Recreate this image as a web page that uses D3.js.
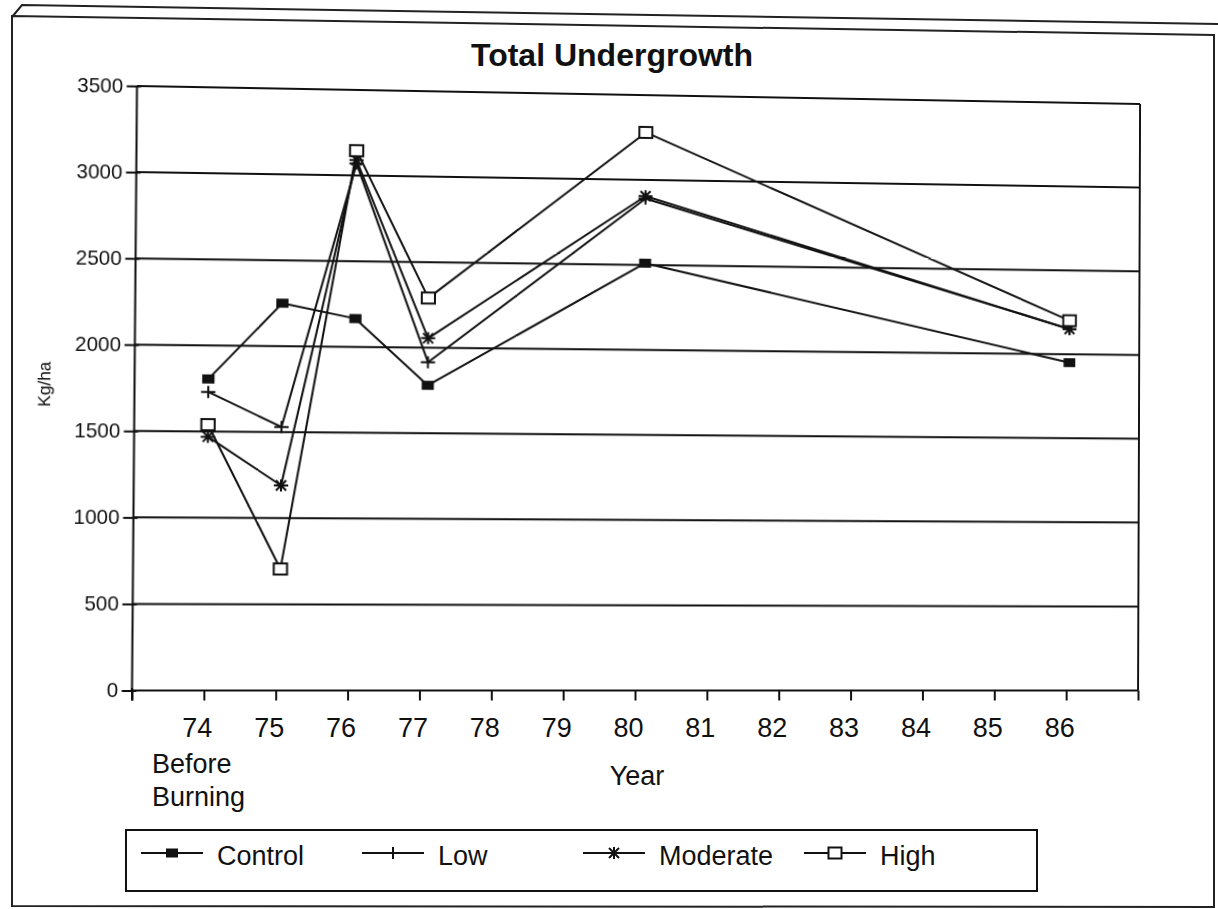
<!DOCTYPE html>
<html>
<head>
<meta charset="utf-8">
<script src="https://cdn.jsdelivr.net/npm/d3@7"></script>
<style>
  body { margin: 0; background: #fff; }
  #wrap { position: relative; width: 1218px; height: 909px; overflow: hidden; }
  #wrap svg { position: absolute; left: 0; top: 0; }
</style>
</head>
<body>
<div id="wrap"></div>
<script>
// data (Kg/ha)
const years = [74, 75, 76, 77, 80, 86];
const control = [1805, 2250, 2165, 1780, 2510, 1950];
const low = [1730, 1530, 3070, 1915, 2890, 2150];
const moderate = [1470, 1190, 3090, 2055, 2905, 2150];
const high = [1540, 705, 3145, 2290, 3280, 2200];
const seriesNames = ["Control", "Low", "Moderate", "High"];
const yTicks = [0, 500, 1000, 1500, 2000, 2500, 3000, 3500];
const xTickYears = d3.range(73, 88);
const xLabelYears = d3.range(74, 87);

const W = 1218, H = 909;
const plot = {left: 134.5, right: 1139, top: 95, bottom: 690.5};
const ink = "#111";
const font = "'Liberation Sans', Arial, sans-serif";

const series = [
  {name: seriesNames[0], values: control, marker: "filledSquare"},
  {name: seriesNames[1], values: low, marker: "plus"},
  {name: seriesNames[2], values: moderate, marker: "star"},
  {name: seriesNames[3], values: high, marker: "openSquare"}
];

const x = d3.scaleLinear().domain([73, 87]).range([plot.left, plot.right]);
const y = d3.scaleLinear().domain([0, 3500]).range([plot.bottom, plot.top]);
// bottom edge of the scan is flat, so the x axis is drawn unwarped
const xFlat = d3.scaleLinear().domain([73, 87]).range([132, 1138]);

const wrap = d3.select("#wrap");

// flat layer: sheet frame, title, x axis, axis titles, legend
const flat = wrap.append("svg")
  .attr("width", W).attr("height", H)
  .attr("font-family", font);

flat.append("path")
  .attr("d", "M12,906 L12,16 L1214,35 L1214,907 Z")
  .attr("fill", "none").attr("stroke", "#222").attr("stroke-width", 2);
flat.append("path")
  .attr("d", "M12,17 L22,5 L1218,24")
  .attr("fill", "none").attr("stroke", "#222").attr("stroke-width", 2);

flat.append("text")
  .attr("x", 612).attr("y", 66)
  .attr("text-anchor", "middle")
  .attr("font-size", 32).attr("font-weight", "bold")
  .attr("fill", ink)
  .text("Total Undergrowth");

const xAxis = flat.append("g")
  .attr("transform", "translate(0,690.5)")
  .call(d3.axisBottom(xFlat).tickValues(xTickYears).tickSize(10)
    .tickFormat(d => xLabelYears.includes(d) ? d : ""));
xAxis.select(".domain").remove();
xAxis.attr("font-family", font);
xAxis.selectAll(".tick line").attr("stroke", ink).attr("stroke-width", 2);
xAxis.selectAll(".tick text")
  .attr("y", 46.5).attr("dy", 0).attr("dx", -7)
  .attr("font-size", 27).attr("fill", ink);
flat.append("line")
  .attr("x1", xFlat.range()[0]).attr("x2", xFlat.range()[1])
  .attr("y1", 690.5).attr("y2", 690.5)
  .attr("stroke", ink).attr("stroke-width", 2);
flat.append("line")
  .attr("x1", xFlat.range()[0]).attr("x2", xFlat.range()[0])
  .attr("y1", 688).attr("y2", 700.5)
  .attr("stroke", ink).attr("stroke-width", 2);

flat.append("text").attr("x", 152).attr("y", 773)
  .attr("font-size", 27).attr("fill", ink).text("Before");
flat.append("text").attr("x", 152).attr("y", 806)
  .attr("font-size", 27).attr("fill", ink).text("Burning");
flat.append("text").attr("x", 637).attr("y", 785)
  .attr("text-anchor", "middle")
  .attr("font-size", 27).attr("fill", ink).text("Year");

// warped layer: plot drawn flat then bent to follow the scan
const svg = wrap.append("svg")
  .attr("width", W).attr("height", H)
  .attr("font-family", font)
  .style("transform-origin", "0 0");

function homography(src, dst) {
  const A = [], b = [];
  for (let i = 0; i < 4; i++) {
    const [px, py] = src[i], [u, v] = dst[i];
    A.push([px, py, 1, 0, 0, 0, -px * u, -py * u]); b.push(u);
    A.push([0, 0, 0, px, py, 1, -px * v, -py * v]); b.push(v);
  }
  for (let c = 0; c < 8; c++) {
    let p = c;
    for (let r = c + 1; r < 8; r++) if (Math.abs(A[r][c]) > Math.abs(A[p][c])) p = r;
    [A[c], A[p]] = [A[p], A[c]]; [b[c], b[p]] = [b[p], b[c]];
    for (let r = 0; r < 8; r++) {
      if (r === c) continue;
      const f = A[r][c] / A[c][c];
      for (let k = c; k < 8; k++) A[r][k] -= f * A[c][k];
      b[r] -= f * b[c];
    }
  }
  return b.map((v, i) => v / A[i][i]);
}

const h = homography(
  [[plot.left, plot.top], [plot.right, plot.top], [plot.right, plot.bottom], [plot.left, plot.bottom]],
  [[137, 86], [1140, 104], [1138, 690.5], [132, 690.5]]
);
svg.style("transform", "matrix3d(" + [h[0], h[3], 0, h[6], h[1], h[4], 0, h[7], 0, 0, 1, 0, h[2], h[5], 0, 1].join(",") + ")");

// gridlines
svg.append("g")
  .selectAll("line")
  .data(yTicks.filter(d => d > 0))
  .enter()
  .append("line")
  .attr("x1", plot.left).attr("x2", plot.right)
  .attr("y1", d => y(d)).attr("y2", d => y(d))
  .attr("stroke", ink).attr("stroke-width", 2);

// right border of plot
svg.append("line")
  .attr("x1", plot.right).attr("x2", plot.right)
  .attr("y1", plot.top).attr("y2", plot.bottom)
  .attr("stroke", ink).attr("stroke-width", 2);

// y axis
const yAxis = svg.append("g")
  .attr("transform", "translate(" + plot.left + ",0)")
  .call(d3.axisLeft(y).tickValues(yTicks).tickSize(10).tickPadding(3)
    .tickFormat(d3.format("d")));
yAxis.select(".domain").remove();
yAxis.attr("font-family", font);
yAxis.selectAll(".tick line").attr("x1", 4).attr("stroke", ink).attr("stroke-width", 2);
yAxis.selectAll(".tick text")
  .attr("x", -13.5).attr("font-size", 20).attr("fill", ink);
svg.append("line")
  .attr("x1", plot.left).attr("x2", plot.left)
  .attr("y1", plot.top).attr("y2", plot.bottom)
  .attr("stroke", ink).attr("stroke-width", 2);

svg.append("text")
  .attr("transform", "translate(53,390) rotate(-90)")
  .attr("text-anchor", "middle")
  .attr("font-size", 17).attr("fill", ink).text("Kg/ha");

// markers
function drawMarker(g, type) {
  if (type === "filledSquare") {
    g.append("rect").attr("x", -6).attr("y", -4.5).attr("width", 12).attr("height", 9)
      .attr("fill", ink);
  } else if (type === "plus") {
    g.append("path").attr("d", "M-7,0H7M0,-6V6")
      .attr("stroke", ink).attr("stroke-width", 2).attr("fill", "none");
  } else if (type === "star") {
    g.append("path").attr("d", "M-7,0H7M0,-6V6M-5,-5L5,5M-5,5L5,-5")
      .attr("stroke", ink).attr("stroke-width", 2).attr("fill", "none");
  } else {
    g.append("rect").attr("x", -6.5).attr("y", -5.5).attr("width", 13).attr("height", 11)
      .attr("fill", "#fff").attr("stroke", ink).attr("stroke-width", 2);
  }
}

const line = d3.line()
  .x((d, i) => x(years[i]))
  .y(d => y(d));

const seriesG = svg.selectAll(".series")
  .data(series)
  .enter()
  .append("g")
  .attr("class", "series");

seriesG.append("path")
  .attr("d", d => line(d.values))
  .attr("fill", "none")
  .attr("stroke", ink)
  .attr("stroke-width", 2)
  .attr("stroke-linejoin", "round");

seriesG.each(function(s) {
  d3.select(this).selectAll(".pt")
    .data(s.values)
    .enter()
    .append("g")
    .attr("class", "pt")
    .attr("transform", (d, i) => "translate(" + x(years[i]) + "," + y(d) + ")")
    .each(function() { drawMarker(d3.select(this), s.marker); });
});

// legend (flat)
const legend = flat.append("g");
legend.append("rect")
  .attr("x", 126).attr("y", 830).attr("width", 911).attr("height", 61)
  .attr("fill", "none").attr("stroke", ink).attr("stroke-width", 2);

const item = legend.selectAll(".item")
  .data(series)
  .enter()
  .append("g")
  .attr("class", "item")
  .attr("transform", (d, i) => "translate(" + (141 + i * 221) + ",853)");

item.append("line")
  .attr("x1", 0).attr("x2", 62)
  .attr("stroke", ink).attr("stroke-width", 2);
item.append("g")
  .attr("transform", "translate(31,0)")
  .each(function(d) { drawMarker(d3.select(this), d.marker); });
item.append("text")
  .attr("x", 76).attr("y", 12)
  .attr("font-size", 27).attr("fill", ink)
  .text(d => d.name);
</script>
</body>
</html>
